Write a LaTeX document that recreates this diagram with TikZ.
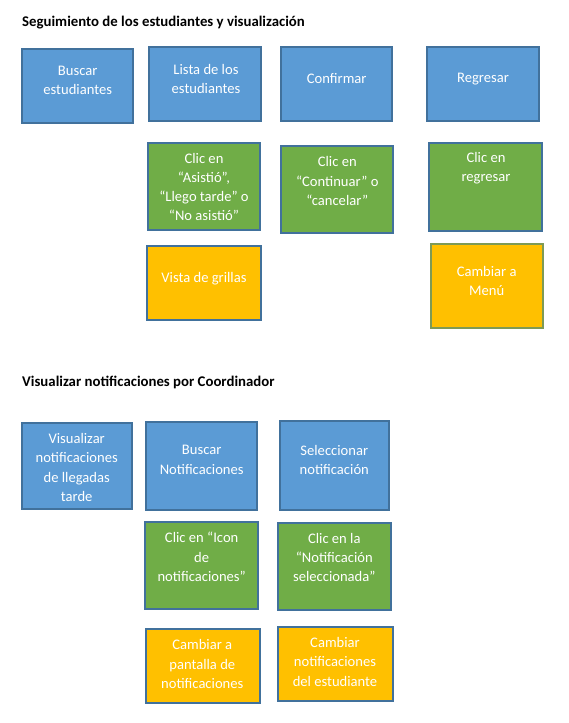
\documentclass[tikz,border=0pt]{standalone}
\usepackage{fontspec}
\setmainfont{Carlito}
\usepackage{tikz}
\usetikzlibrary{calc,positioning}
\definecolor{azul}{HTML}{5B9BD5}
\definecolor{verde}{HTML}{70AD47}
\definecolor{amarillo}{HTML}{FFC000}
\definecolor{borde}{HTML}{41719C}
\definecolor{bordeolivo}{HTML}{7E9A55}
\tikzset{
  caja/.style={draw=borde, line width=1.2pt, inner sep=0pt, outer sep=0pt},
  cajaazul/.style={caja, fill=azul},
  cajaverde/.style={caja, fill=verde},
  cajaamarilla/.style={caja, fill=amarillo},
  txt/.style={text=white, align=center, inner sep=0pt, font=\fontsize{14.6}{19.3}\selectfont},
  titulo/.style={anchor=base west, inner sep=0pt, font=\bfseries\fontsize{14.8}{17}\selectfont}
}
\begin{document}
\begin{tikzpicture}[x=1pt,y=-1pt]
\useasboundingbox (0,0) rectangle (568,723);
\node[titulo] (tit1) at (22,26) {Seguimiento de los estudiantes y visualización};
% fila azul
\node[cajaazul, minimum width=111pt, minimum height=74pt] (buscarE) at (77.5,86) {};
\node[cajaazul, minimum width=112pt, minimum height=74pt] (lista) at (205,84) {};
\node[cajaazul, minimum width=111pt, minimum height=74pt] (confirmar) at (336.5,84) {};
\node[cajaazul, minimum width=112pt, minimum height=74pt] (regresar) at (483,84) {};
\node[txt] at (77.7,80.7) {Buscar\\estudiantes};
\node[txt] at (206,79) {Lista de los\\estudiantes};
\node[txt] at (336.7,79) {Confirmar};
\node[txt] at (483,79) {Regresar};
% fila verde
\node[cajaverde, minimum width=112pt, minimum height=87pt] (clicAsis) at (204,186.5) {};
\node[cajaverde, minimum width=112pt, minimum height=87pt] (clicCont) at (337,189.5) {};
\node[cajaverde, minimum width=113pt, minimum height=88pt] (clicReg) at (485.5,187) {};
\node[txt] at (204,187) {Clic en\\“Asistió”,\\“Llego tarde” o\\“No asistió”};
\node[txt] at (337.3,181) {Clic en\\“Continuar” o\\“cancelar”};
\node[txt] at (486,168.3) {Clic en\\regresar};
% fila amarilla
\node[cajaamarilla, minimum width=114pt, minimum height=74pt] (grillas) at (204,283) {};
\node[cajaamarilla, draw=bordeolivo, minimum width=112pt, minimum height=84pt] (menu) at (487,286) {};
\node[txt] at (204,278.3) {Vista de grillas};
\node[txt] at (486.7,281) {Cambiar a\\Menú};

\node[titulo] (tit2) at (22,386) {Visualizar notificaciones por Coordinador};
% fila azul
\node[cajaazul, minimum width=110pt, minimum height=86pt] (visual) at (77,466) {};
\node[cajaazul, minimum width=111pt, minimum height=88pt] (buscarN) at (201.5,466) {};
\node[cajaazul, minimum width=109pt, minimum height=89pt] (selec) at (334.5,465.5) {};
\node[txt] at (76.7,467.5) {Visualizar\\notificaciones\\de llegadas\\tarde};
\node[txt] at (201.7,460) {Buscar\\Notificaciones};
\node[txt] at (334.3,460) {Seleccionar\\notificación};
% fila verde
\node[cajaverde, minimum width=113pt, minimum height=87pt] (clicIcon) at (201.5,565.5) {};
\node[cajaverde, minimum width=113pt, minimum height=87pt] (clicNotif) at (334.5,566.5) {};
\node[txt] at (201.7,557) {Clic en “Icon\\de\\notificaciones”};
\node[txt] at (334.3,557.5) {Clic en la\\“Notificación\\seleccionada”};
% fila amarilla
\node[cajaamarilla, minimum width=114pt, minimum height=74pt] (pantalla) at (203,666) {};
\node[cajaamarilla, minimum width=115pt, minimum height=74pt] (cambNotif) at (335.5,664) {};
\node[txt] at (202.3,664) {Cambiar a\\pantalla de\\notificaciones};
\node[txt] at (335,661.7) {Cambiar\\notificaciones\\del estudiante};
\end{tikzpicture}
\end{document}
